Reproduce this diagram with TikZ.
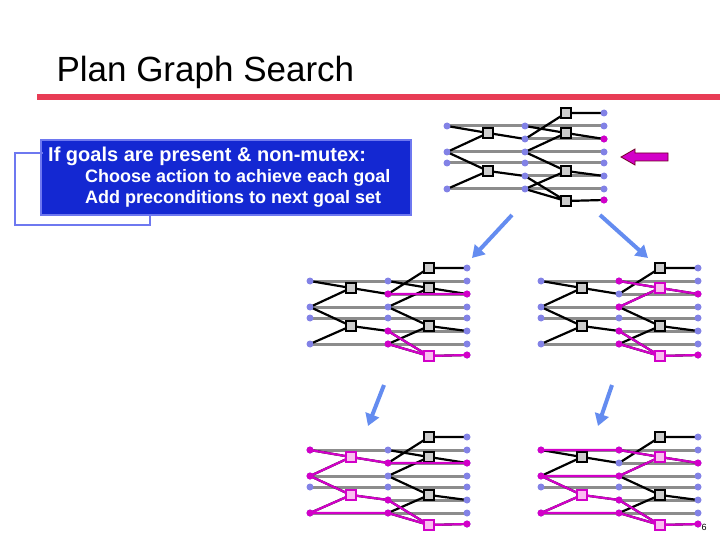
\documentclass[tikz,border=0pt]{standalone}
\usepackage{fontspec}
\setmainfont{Liberation Sans}
\usetikzlibrary{arrows.meta}
\definecolor{dotb}{RGB}{130,130,230}
\definecolor{mag}{RGB}{210,0,200}
\definecolor{pinkf}{RGB}{250,190,240}
\definecolor{grl}{RGB}{140,140,140}
\definecolor{boxb}{RGB}{20,40,210}
\definecolor{bordb}{RGB}{110,120,240}
\definecolor{redbar}{RGB}{232,60,85}
\definecolor{arrb}{RGB}{100,140,240}
\tikzset{
 dot/.style={circle,fill=dotb,inner sep=0pt,minimum size=7pt},
 mdot/.style={circle,fill=mag,inner sep=0pt,minimum size=7pt},
 act/.style={draw=black,line width=1.6pt,fill=gray!40,inner sep=0pt,minimum size=10pt},
 mact/.style={draw=mag,line width=1.6pt,fill=pinkf,inner sep=0pt,minimum size=10pt},
 noop/.style={draw=grl,line width=3pt},
 edge/.style={draw=black,line width=2.2pt},
 medge/.style={draw=mag,line width=2.2pt},
 bigarr/.style={draw=arrb,line width=4pt,-{Triangle[length=12pt,width=14pt]}},
}
\newcommand\pgraph[3]{%
\begin{scope}[shift={(#2,#3)}]
 \coordinate (#1L1) at (0,13); \coordinate (#1L2) at (0,39);
 \coordinate (#1L3) at (0,50); \coordinate (#1L4) at (0,76);
 \coordinate (#1M1) at (78,13); \coordinate (#1M2) at (78,26);
 \coordinate (#1M3) at (78,39); \coordinate (#1M4) at (78,50);
 \coordinate (#1M5) at (78,63); \coordinate (#1M6) at (78,76);
 \coordinate (#1R0) at (157,0); \coordinate (#1R1) at (157,13);
 \coordinate (#1R2) at (157,26); \coordinate (#1R3) at (157,39);
 \coordinate (#1R4) at (157,50); \coordinate (#1R5) at (157,63);
 \coordinate (#1R6) at (157,76); \coordinate (#1R7) at (157,87);
 \coordinate (#1A1) at (41,20); \coordinate (#1A2) at (41,58);
 \coordinate (#1A3) at (119,0); \coordinate (#1A4) at (119,20);
 \coordinate (#1A5) at (119,58); \coordinate (#1A6) at (119,88);
 \draw[noop] (#1L1)--(#1M1) (#1L2)--(#1M3) (#1L3)--(#1M4) (#1L4)--(#1M6)
   (#1M1)--(#1R1) (#1M2)--(#1R2) (#1M3)--(#1R3) (#1M4)--(#1R4) (#1M5)--(#1R5) (#1M6)--(#1R6);
 \draw[edge] (#1L1)--(#1A1)--(#1M2) (#1L2)--(#1A1) (#1L2)--(#1A2)--(#1M5) (#1L4)--(#1A2)
   (#1M2)--(#1A3)--(#1R0) (#1M1)--(#1A4)--(#1R2) (#1M3)--(#1A4)
   (#1M3)--(#1A5)--(#1R5) (#1M6)--(#1A5) (#1M5)--(#1A6)--(#1R7) (#1M6)--(#1A6);
 \foreach \n in {L1,L2,L3,L4,M1,M2,M3,M4,M5,M6,R0,R1,R2,R3,R4,R5,R6,R7}
   \node[dot] (#1d\n) at (#1\n) {};
 \foreach \n in {A1,A2,A3,A4,A5,A6}
   \node[act] (#1b\n) at (#1\n) {};
\end{scope}}
\newcommand\mdots[2]{\foreach \n in {#2} \node[mdot] (#1m\n) at (#1\n) {};}
\newcommand\macts[2]{\foreach \n in {#2} \node[mact] (#1ma\n) at (#1\n) {};}
\begin{document}
\begin{tikzpicture}[x=1pt,y=-1pt]
\useasboundingbox (0,0) rectangle (720,540);
\node[anchor=west,font=\fontsize{35}{40}\selectfont] (title) at (53,72) {Plan Graph Search};
\fill[redbar] (37,94) rectangle (720,100);
% text box
\node[draw=bordb,line width=2pt,fill=boxb,text=white,anchor=north west,minimum width=370pt,minimum height=75pt,inner sep=0pt] (box) at (40,139) {};
\node[anchor=west,text=white,font=\bfseries\fontsize{20}{22}\selectfont,inner sep=0pt] (t1) at (48,156) {If goals are present \& non-mutex:};
\node[anchor=west,text=white,font=\bfseries\fontsize{18}{20}\selectfont,inner sep=0pt] (t2) at (85,178) {Choose action to achieve each goal};
\node[anchor=west,text=white,font=\bfseries\fontsize{18}{20}\selectfont,inner sep=0pt] (t3) at (85,199) {Add preconditions to next goal set};
\coordinate (lp1) at (43,153); \coordinate (lp2) at (150,214);
\draw[bordb,line width=2pt] (lp1) -- (15,153) -- (15,225) -| (lp2);
% graphs
\pgraph{g}{447}{113}
\mdots{g}{R2,R7}
\pgraph{a}{310}{268}
\draw[medge] (aM2)--(aR2) (aM5)--(aA6)--(aR7) (aM6)--(aA6);
\mdots{a}{M2,M5,M6,R2,R7}\macts{a}{A6}
\pgraph{b}{541}{268}
\draw[medge] (bM1)--(bA4)--(bR2) (bM3)--(bA4) (bM5)--(bA6)--(bR7) (bM6)--(bA6);
\mdots{b}{M1,M3,M5,M6,R2,R7}\macts{b}{A4,A6}
\pgraph{c}{310}{437}
\draw[medge] (cM2)--(cR2) (cM5)--(cA6)--(cR7) (cM6)--(cA6)
  (cL1)--(cA1)--(cM2) (cL2)--(cA1) (cL2)--(cA2)--(cM5) (cL4)--(cA2) (cL4)--(cM6);
\mdots{c}{L1,L2,L4,M2,M5,M6,R2,R7}\macts{c}{A1,A2,A6}
\pgraph{e}{541}{437}
\draw[medge] (eM1)--(eA4)--(eR2) (eM3)--(eA4) (eM5)--(eA6)--(eR7) (eM6)--(eA6)
  (eL1)--(eM1) (eL2)--(eM3) (eL2)--(eA2)--(eM5) (eL4)--(eA2) (eL4)--(eM6);
\mdots{e}{L1,L2,L4,M1,M3,M5,M6,R2,R7}\macts{e}{A2,A4,A6}
% arrows
\coordinate (a1s) at (512,215); \coordinate (a1e) at (472,258);
\coordinate (a2s) at (600,215); \coordinate (a2e) at (648,258);
\coordinate (a3s) at (384,385); \coordinate (a3e) at (368,426);
\coordinate (a4s) at (612,385); \coordinate (a4e) at (598,426);
\draw[bigarr] (a1s)--(a1e);
\draw[bigarr] (a2s)--(a2e);
\draw[bigarr] (a3s)--(a3e);
\draw[bigarr] (a4s)--(a4e);
\coordinate (me) at (621,157);
\filldraw[fill=mag,draw=purple!60!black,line width=0.8pt,line join=miter]
  (me) -- ++(14,-8) -- ++(0,4) -- ++(33,0) -- ++(0,8) -- ++(-33,0) -- ++(0,4) -- cycle;
\node[font=\fontsize{9}{10}\selectfont] (pg) at (704,527) {6};
\end{tikzpicture}
\end{document}
